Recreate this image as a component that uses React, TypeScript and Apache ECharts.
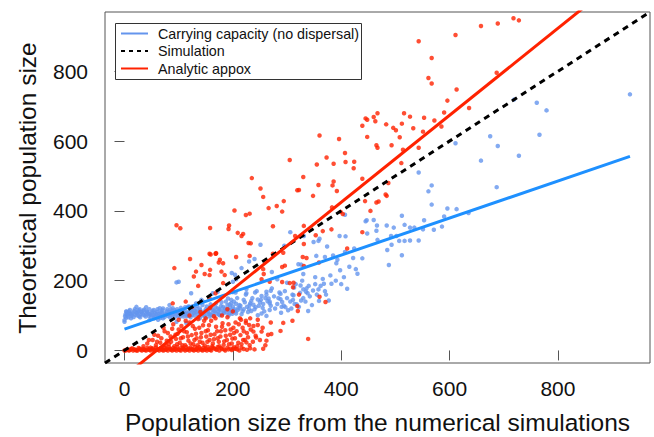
import React, { useEffect, useRef } from "react";
import * as echarts from "echarts";

const xTicks = [0, 200, 400, 600, 800];
const yTicks = [0, 200, 400, 600, 800];
const axisMin = -36;
const axisMax = 970;

const xTitle = "Population size from the numerical simulations";
const yTitle = "Theoretical population size";

const legendNames = ["Carrying capacity (no dispersal)", "Simulation", "Analytic appox"];

// fitted / reference lines (data units)
const carryingLine: [number, number][] = [[0, 61], [933, 556]];
const simulationLine: [number, number][] = [[-36, -36], [970, 970]];
const analyticLine: [number, number][] = [[0, -74], [900, 1048]];

// blue points: carrying capacity (no dispersal)
const carryingPoints: [number, number][] = [
  [933, 734], [719, 719], [761, 710], [779, 688], [675, 614], [689, 586], [766, 618], [658, 544], [728, 558], [687, 468],
  [611, 594], [543, 510], [567, 473], [561, 456], [567, 418], [512, 386], [596, 407], [613, 405], [635, 394], [590, 384],
  [553, 373], [586, 355], [571, 346], [551, 347], [517, 360], [497, 352], [484, 358], [466, 358], [527, 352], [535, 352],
  [447, 373], [445, 370], [460, 374], [465, 343], [448, 335], [407, 389], [397, 328], [408, 327], [374, 298], [467, 317],
  [492, 328], [493, 303], [507, 314], [517, 314], [527, 315], [543, 315], [502, 328], [485, 288], [512, 273], [424, 292],
  [422, 265], [439, 264], [385, 272], [488, 245],
  [306, 339], [251, 303], [295, 300], [331, 328], [349, 311], [358, 314], [360, 320], [354, 271], [370, 268],
  [407, 282], [321, 247], [326, 246], [391, 250], [393, 260], [427, 233], [204, 217], [198, 222], [272, 225], [282, 204],
  [300, 194], [330, 219], [352, 190], [368, 191], [382, 191], [411, 177], [400, 190], [325, 186], [313, 180], [330, 175],
  [335, 168], [338, 164], [262, 168], [270, 171], [253, 156], [266, 149], [241, 166], [225, 176], [225, 164], [200, 167],
  [205, 166], [286, 166], [288, 147], [291, 139], [311, 145], [314, 133], [326, 143], [339, 113], [359, 142], [377, 143],
  [297, 124], [308, 120], [289, 108], [268, 135], [268, 116], [256, 133], [231, 130], [220, 118], [213, 121], [201, 116],
  [253, 106], [234, 113], [246, 101], [262, 99], [206, 106], [197, 135], [230, 255], [216, 236], [240, 262],
  [96, 195], [100, 197], [123, 164], [142, 145], [145, 140], [163, 164], [172, 168], [191, 149], [200, 197], [206, 204],
  [132, 135], [117, 125], [83, 130], [65, 121], [40, 124], [22, 125], [3, 94], [0, 82], [46, 87], [71, 92],
  [96, 82], [114, 79], [139, 92], [157, 97], [176, 101], [194, 106], [209, 116], [0, 87], [9, 106],
  [12, 92], [28, 118], [55, 92], [85, 118], [62, 88],
  [2, 104], [4, 110], [6, 100], [8, 112], [11, 105], [13, 99], [15, 108], [18, 113], [20, 102], [23, 107],
  [25, 111], [27, 98], [30, 104], [32, 109], [35, 114], [37, 101], [40, 106], [42, 111], [45, 99], [47, 104],
  [50, 108], [52, 113], [55, 102], [57, 107], [60, 111], [62, 98], [65, 105], [67, 110], [70, 115], [72, 101],
  [75, 106], [78, 112], [80, 99], [83, 104], [85, 109], [88, 114], [90, 102], [93, 107], [95, 111], [98, 100],
  [100, 105], [103, 110], [105, 116], [108, 103], [110, 108], [113, 112], [115, 98], [118, 106], [120, 111], [123, 117],
  [125, 102], [128, 108], [130, 113], [133, 119], [135, 104], [138, 110], [140, 115], [143, 100], [145, 107], [148, 112],
  [150, 118], [153, 105], [155, 110], [158, 121], [160, 102], [163, 108], [165, 114], [168, 124], [170, 106], [173, 111],
  [175, 118], [178, 127], [180, 104], [183, 113], [185, 120], [188, 109], [190, 130], [193, 116], [195, 123], [198, 111],
  [200, 126], [203, 118], [206, 134], [210, 122], [214, 128], [218, 112], [222, 138], [226, 125], [230, 119], [234, 142],
  [238, 131], [242, 124], [246, 146], [250, 138], [255, 122], [260, 150], [264, 141], [270, 128], [276, 155], [282, 133],
  [288, 162], [294, 128], [300, 150], [306, 140], [312, 158], [318, 132], [324, 165], [330, 150], [336, 178], [342, 155],
  [348, 172], [355, 160], [362, 185], [370, 170],
  [1, 98], [3, 112], [5, 105], [7, 95], [10, 116], [14, 103], [17, 96], [19, 118], [22, 108], [24, 100],
  [26, 115], [29, 95], [31, 110], [34, 103], [36, 117], [39, 97], [41, 112], [44, 106], [46, 118], [49, 96],
  [51, 101], [54, 116], [56, 95], [59, 104], [61, 118], [64, 100], [66, 93], [69, 108], [71, 120], [74, 96],
  [77, 103], [79, 118], [82, 110], [84, 95], [87, 100], [89, 121], [92, 115], [94, 97], [97, 118], [99, 110],
  [102, 96], [104, 122], [107, 114], [109, 97], [112, 124], [114, 105], [117, 100], [119, 126], [122, 95], [124, 112],
  [127, 122], [129, 100], [132, 110], [134, 128], [137, 97], [139, 120], [142, 108], [144, 130], [147, 102], [149, 96],
  [152, 126], [154, 115], [157, 104], [159, 132], [162, 118], [164, 99], [167, 112], [169, 135], [172, 120], [174, 103],
  [177, 115], [179, 138], [182, 125], [184, 108], [187, 140], [189, 118], [192, 100], [194, 132], [197, 145], [199, 105],
  [202, 140], [205, 112], [208, 150], [212, 130], [216, 104], [220, 145], [224, 160], [228, 110], [232, 135], [236, 150],
  [240, 118], [244, 170], [248, 128], [252, 145], [258, 112], [262, 160], [268, 140], [272, 178], [278, 120], [284, 150],
  [290, 125], [296, 170], [302, 115], [310, 160], [316, 190], [322, 125], [328, 200], [334, 140], [340, 185], [346, 130],
  [352, 210], [358, 175], [366, 205], [372, 160], [380, 215], [390, 200], [398, 230], [405, 210], [415, 240], [430, 220],
];

// red points: analytic approximation
const analyticPoints: [number, number][] = [
  [658, 930], [689, 937], [718, 952], [728, 946], [687, 796], [543, 886], [611, 904], [567, 838], [561, 781], [567, 765],
  [613, 748], [596, 716], [636, 695], [590, 682], [516, 680], [527, 670], [553, 667], [483, 648], [512, 650], [496, 638],
  [501, 631], [533, 637], [572, 659], [585, 642], [551, 627], [508, 611], [493, 588], [514, 575], [543, 581], [511, 537],
  [487, 480], [484, 443], [467, 680], [445, 665], [448, 661], [460, 669], [463, 657], [439, 644], [360, 616], [396, 606],
  [448, 612], [465, 588], [467, 581], [305, 546], [373, 553], [407, 566], [386, 535], [355, 533], [408, 540], [424, 541],
  [423, 522], [235, 494], [251, 464], [256, 440], [330, 497], [319, 459], [322, 460], [358, 474], [386, 484], [384, 473],
  [392, 457], [348, 443], [439, 492], [482, 447],
  [294, 428], [266, 408], [281, 414], [291, 398], [203, 401], [224, 388], [231, 392], [96, 359], [103, 350], [158, 351],
  [193, 358], [192, 348], [274, 356], [209, 337], [216, 328], [229, 308], [331, 357], [315, 328], [353, 330], [366, 342],
  [331, 305], [121, 262], [159, 275], [169, 278], [176, 260], [206, 268], [231, 271], [274, 277], [293, 280], [329, 268],
  [336, 265], [444, 428], [465, 424], [469, 427], [454, 400], [383, 410], [399, 397], [403, 391], [382, 347], [439, 339],
  [411, 292], [256, 233], [257, 219], [291, 239], [296, 243], [331, 242], [359, 252], [253, 204], [268, 197], [291, 196],
  [305, 193], [312, 194], [311, 181], [322, 160], [319, 127], [320, 113], [310, 85], [293, 79], [288, 56], [271, 47],
  [262, 28], [256, 5], [243, 37], [253, 54], [230, 73], [238, 70], [246, 73], [224, 79], [213, 92], [219, 30],
  [225, 23], [231, 15], [208, 12], [201, 5], [240, 3], [339, 33], [360, 154], [371, 139], [238, 54],
  [157, 277], [168, 277], [174, 252], [142, 245], [157, 216], [148, 219], [128, 212], [179, 226], [136, 185], [182, 193],
  [168, 164], [113, 140], [89, 135], [157, 149], [92, 236], [132, 226], [158, 231], [169, 279], [182, 250], [185, 216],
  [219, 334], [233, 307],
  [35, 12], [42, 20], [48, 8], [52, 30], [58, 15], [62, 42], [66, 22], [70, 10], [74, 55], [78, 28],
  [82, 18], [85, 40], [88, 62], [92, 12], [95, 33], [98, 48], [102, 22], [105, 70], [108, 38], [112, 15],
  [115, 52], [118, 28], [120, 80], [124, 44], [127, 18], [130, 62], [133, 35], [136, 90], [139, 25], [142, 50],
  [145, 72], [148, 14], [151, 40], [154, 58], [157, 30], [160, 85], [163, 20], [166, 46], [169, 68], [172, 35],
  [175, 12], [178, 55], [181, 78], [184, 26], [187, 42], [190, 95], [193, 18], [196, 60], [199, 34], [202, 50],
  [205, 80], [210, 22], [214, 44], [218, 65], [222, 30], [226, 50], [180, 100], [140, 110], [200, 112], [165, 98],
  [120, 100], [100, 88], [215, 88], [150, 92],
  [45, 30], [55, 45], [60, 25], [68, 35], [72, 65], [76, 15], [80, 50], [86, 25], [90, 75], [94, 45],
  [97, 18], [100, 60], [104, 35], [107, 15], [110, 55], [113, 85], [117, 40], [122, 20], [126, 70], [129, 30],
  [132, 48], [135, 15], [138, 65], [141, 38], [144, 22], [147, 85], [150, 55], [153, 25], [156, 72], [159, 45],
  [162, 12], [165, 32], [168, 92], [171, 55], [174, 25], [177, 40], [180, 68], [183, 16], [186, 58], [189, 30],
  [192, 75], [195, 45], [198, 20], [201, 65], [204, 35], [207, 55], [211, 75], [216, 18], [220, 55], [224, 85],
  [228, 38], [233, 60], [237, 25], [242, 42], [246, 88], [250, 30], [255, 65], [260, 15], [265, 45], [270, 80],
  [232, 92], [190, 118], [158, 122], [125, 125],
  [0, 0], [4, 2], [8, 0], [12, 4], [16, 0], [20, 2], [24, 0], [28, 5], [32, 0], [36, 2],
  [40, 0], [44, 3], [48, 0], [52, 6], [56, 0], [60, 2], [64, 0], [68, 4], [72, 0], [76, 2],
  [80, 0], [84, 5], [88, 0], [92, 2], [96, 0], [100, 3], [104, 0], [108, 6], [112, 0], [116, 2],
  [120, 0], [124, 4], [128, 0], [132, 2], [136, 0], [140, 5], [144, 0], [148, 2], [152, 0], [156, 3],
  [160, 0], [165, 6], [170, 2], [175, 0], [180, 4], [186, 0], [192, 3], [198, 1], [205, 5], [212, 0], [220, 4],
  [2, 0], [6, 3], [10, 1], [14, 6], [18, 3], [22, 0], [26, 7], [30, 2], [34, 5], [38, 1],
  [42, 7], [46, 2], [50, 4], [54, 1], [58, 8], [62, 3], [66, 6], [70, 1], [74, 8], [78, 4],
  [82, 9], [86, 2], [90, 7], [94, 4], [98, 10], [102, 1], [106, 8], [110, 3], [114, 10], [118, 5],
  [122, 8], [126, 2], [130, 10], [134, 5], [138, 9], [142, 2], [146, 8], [150, 5], [154, 10], [158, 2],
  [162, 8], [168, 4], [172, 10], [178, 7], [184, 3], [190, 8], [196, 5], [202, 9], [208, 3], [216, 8],
  [226, 2], [232, 6],
];

const FONT = "'Liberation Sans', Arial, Helvetica, sans-serif";
const BLUE_PT = "#6495ED";
const BLUE_LINE = "#1E90FF";
const RED = "#FF2200";

export default function App() {
  const ref = useRef<HTMLDivElement>(null);
  useEffect(() => {
    if (!ref.current) return;
    const chart = echarts.init(ref.current, undefined, { renderer: "svg" });
    const axisCommon = (ticks: number[], margin: number) => ({
      type: "value" as const,
      min: axisMin,
      max: axisMax,
      axisLine: { show: false },
      splitLine: { show: false },
      axisTick: {
        show: true,
        inside: false,
        length: 10,
        customValues: ticks,
        lineStyle: { color: "#555", width: 1 },
      },
      axisLabel: {
        customValues: ticks,
        color: "#111",
        fontSize: 21,
        fontFamily: FONT,
        margin,
      },
    });
    const legendX0 = 121;
    const legendX1 = 148;
    const legendRows = [33.5, 51, 68.5];
    chart.setOption({
      animation: false,
      backgroundColor: "#fff",
      grid: {
        left: 105,
        right: 4,
        top: 12,
        bottom: 74,
        show: true,
        borderColor: "#555",
        borderWidth: 1,
        backgroundColor: "transparent",
      },
      xAxis: axisCommon(xTicks, 15),
      yAxis: axisCommon(yTicks, 17),
      series: [
        {
          type: "scatter",
          data: carryingPoints,
          symbolSize: 4.5,
          itemStyle: { color: BLUE_PT },
          z: 2,
        },
        {
          type: "scatter",
          data: analyticPoints,
          symbolSize: 4.5,
          itemStyle: { color: RED },
          z: 2,
        },
        {
          type: "line",
          data: carryingLine,
          symbol: "none",
          lineStyle: { color: BLUE_LINE, width: 3 },
          z: 3,
        },
        {
          type: "line",
          data: simulationLine,
          symbol: "none",
          lineStyle: { color: "#000", width: 3, type: [6, 5] },
          z: 4,
        },
        {
          type: "line",
          data: analyticLine,
          symbol: "none",
          clip: true,
          lineStyle: { color: RED, width: 3 },
          z: 5,
        },
      ],
      graphic: [
        {
          type: "rect",
          shape: { x: 115.5, y: 23.5, width: 246, height: 56 },
          style: { fill: "#fff", stroke: "#333", lineWidth: 1 },
          z: 100,
        },
        {
          type: "line",
          shape: { x1: legendX0, y1: legendRows[0], x2: legendX1, y2: legendRows[0] },
          style: { stroke: BLUE_PT, lineWidth: 2 },
          z: 101,
        },
        {
          type: "line",
          shape: { x1: legendX0, y1: legendRows[1], x2: legendX1, y2: legendRows[1] },
          style: { stroke: "#000", lineWidth: 2, lineDash: [4, 4] },
          z: 101,
        },
        {
          type: "line",
          shape: { x1: legendX0, y1: legendRows[2], x2: legendX1, y2: legendRows[2] },
          style: { stroke: RED, lineWidth: 2 },
          z: 101,
        },
        ...legendNames.map((name, i) => ({
          type: "text",
          x: 158,
          y: legendRows[i],
          style: { text: name, font: `14.3px ${FONT}`, fill: "#111", verticalAlign: "middle", align: "left" },
          z: 101,
        })),
        {
          type: "text",
          x: 377.5,
          y: 422,
          style: { text: xTitle, font: `24.5px ${FONT}`, fill: "#111", align: "center", verticalAlign: "middle" },
          z: 101,
        },
        {
          type: "text",
          x: 27,
          y: 188,
          rotation: Math.PI / 2,
          style: { text: yTitle, font: `24.5px ${FONT}`, fill: "#111", align: "center", verticalAlign: "middle" },
          z: 101,
        },
      ],
    });
    return () => chart.dispose();
  }, []);
  return (
    <div
      ref={ref}
      style={{ position: "fixed", left: 0, top: 0, width: 654, height: 437, background: "#fff" }}
    />
  );
}
